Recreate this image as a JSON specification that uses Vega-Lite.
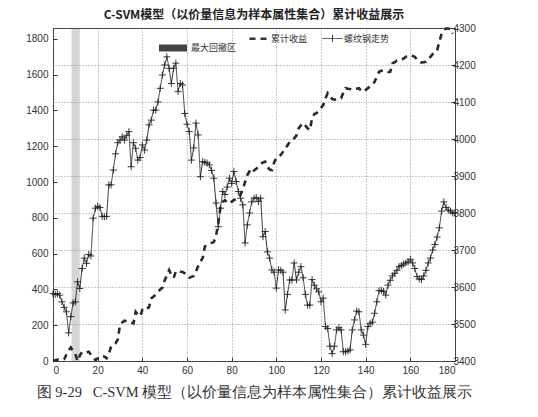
{
  "$schema": "https://vega.github.io/schema/vega-lite/v6.json",
  "width": 402,
  "height": 333,
  "autosize": {"type": "none"},
  "padding": {"left": 53, "top": 28, "right": 83, "bottom": 56},
  "background": "white",
  "config": {
    "view": {"stroke": "#333", "strokeWidth": 1},
    "axis": {"labelFont": "Liberation Sans", "labelFontSize": 10, "labelColor": "#333", "tickColor": "#333", "domain": false, "gridColor": "#777", "gridDash": [1, 2], "gridWidth": 0.8, "labelOverlap": false, "format": "d"}
  },
  "title": {"text": "C-SVM模型（以价量信息为样本属性集合）累计收益展示", "font": "Noto Sans CJK SC", "fontSize": 12, "fontWeight": "bold", "color": "#222", "offset": 1},
  "datasets": {
    "band": [{"x0": 8.3, "x1": 12, "s": "最大回撤区"}],
    "cum": [
      {"x":0,"v":0,"s":"累计收益"},{"x":2,"v":8,"s":"累计收益"},{"x":3,"v":5,"s":"累计收益"},{"x":5,"v":10,"s":"累计收益"},{"x":6,"v":35,"s":"累计收益"},{"x":7,"v":60,"s":"累计收益"},{"x":8,"v":75,"s":"累计收益"},{"x":9,"v":55,"s":"累计收益"},{"x":10,"v":40,"s":"累计收益"},{"x":11,"v":0,"s":"累计收益"},{"x":12,"v":30,"s":"累计收益"},{"x":13,"v":50,"s":"累计收益"},{"x":14,"v":52,"s":"累计收益"},{"x":15,"v":48,"s":"累计收益"},{"x":16,"v":52,"s":"累计收益"},{"x":17,"v":35,"s":"累计收益"},{"x":18,"v":20,"s":"累计收益"},{"x":19,"v":5,"s":"累计收益"},{"x":20,"v":15,"s":"累计收益"},{"x":21,"v":20,"s":"累计收益"},{"x":22,"v":30,"s":"累计收益"},{"x":23,"v":25,"s":"累计收益"},{"x":24,"v":15,"s":"累计收益"},{"x":25,"v":40,"s":"累计收益"},{"x":26,"v":80,"s":"累计收益"},{"x":27,"v":95,"s":"累计收益"},{"x":28,"v":100,"s":"累计收益"},{"x":29,"v":120,"s":"累计收益"},{"x":30,"v":200,"s":"累计收益"},{"x":31,"v":215,"s":"累计收益"},{"x":32,"v":225,"s":"累计收益"},{"x":33,"v":222,"s":"累计收益"},{"x":34,"v":220,"s":"累计收益"},{"x":35,"v":215,"s":"累计收益"},{"x":36,"v":210,"s":"累计收益"},{"x":37,"v":275,"s":"累计收益"},{"x":38,"v":260,"s":"累计收益"},{"x":39,"v":250,"s":"累计收益"},{"x":40,"v":285,"s":"累计收益"},{"x":41,"v":280,"s":"累计收益"},{"x":42,"v":295,"s":"累计收益"},{"x":43,"v":300,"s":"累计收益"},{"x":44,"v":350,"s":"累计收益"},{"x":45,"v":360,"s":"累计收益"},{"x":46,"v":370,"s":"累计收益"},{"x":47,"v":385,"s":"累计收益"},{"x":48,"v":400,"s":"累计收益"},{"x":49,"v":410,"s":"累计收益"},{"x":50,"v":450,"s":"累计收益"},{"x":51,"v":480,"s":"累计收益"},{"x":52,"v":508,"s":"累计收益"},{"x":53,"v":480,"s":"累计收益"},{"x":54,"v":465,"s":"累计收益"},{"x":55,"v":500,"s":"累计收益"},{"x":56,"v":505,"s":"累计收益"},{"x":57,"v":500,"s":"累计收益"},{"x":58,"v":498,"s":"累计收益"},{"x":59,"v":490,"s":"累计收益"},{"x":60,"v":480,"s":"累计收益"},{"x":61,"v":465,"s":"累计收益"},{"x":62,"v":470,"s":"累计收益"},{"x":63,"v":475,"s":"累计收益"},{"x":64,"v":500,"s":"累计收益"},{"x":65,"v":530,"s":"累计收益"},{"x":66,"v":555,"s":"累计收益"},{"x":67,"v":575,"s":"累计收益"},{"x":68,"v":640,"s":"累计收益"},{"x":69,"v":648,"s":"累计收益"},{"x":70,"v":655,"s":"累计收益"},{"x":71,"v":660,"s":"累计收益"},{"x":72,"v":665,"s":"累计收益"},{"x":73,"v":700,"s":"累计收益"},{"x":74,"v":770,"s":"累计收益"},{"x":75,"v":860,"s":"累计收益"},{"x":76,"v":890,"s":"累计收益"},{"x":77,"v":899,"s":"累计收益"},{"x":78,"v":885,"s":"累计收益"},{"x":79,"v":880,"s":"累计收益"},{"x":80,"v":890,"s":"累计收益"},{"x":81,"v":900,"s":"累计收益"},{"x":82,"v":905,"s":"累计收益"},{"x":83,"v":910,"s":"累计收益"},{"x":84,"v":930,"s":"累计收益"},{"x":85,"v":960,"s":"累计收益"},{"x":86,"v":1000,"s":"累计收益"},{"x":87,"v":1039,"s":"累计收益"},{"x":88,"v":1060,"s":"累计收益"},{"x":89,"v":1078,"s":"累计收益"},{"x":90,"v":1065,"s":"累计收益"},{"x":91,"v":1075,"s":"累计收益"},{"x":92,"v":1085,"s":"累计收益"},{"x":93,"v":1100,"s":"累计收益"},{"x":94,"v":1110,"s":"累计收益"},{"x":95,"v":1114,"s":"累计收益"},{"x":96,"v":1085,"s":"累计收益"},{"x":97,"v":1070,"s":"累计收益"},{"x":98,"v":1067,"s":"累计收益"},{"x":99,"v":1110,"s":"累计收益"},{"x":100,"v":1135,"s":"累计收益"},{"x":101,"v":1145,"s":"累计收益"},{"x":102,"v":1151,"s":"累计收益"},{"x":103,"v":1170,"s":"累计收益"},{"x":104,"v":1190,"s":"累计收益"},{"x":105,"v":1205,"s":"累计收益"},{"x":106,"v":1225,"s":"累计收益"},{"x":107,"v":1235,"s":"累计收益"},{"x":108,"v":1245,"s":"累计收益"},{"x":109,"v":1260,"s":"累计收益"},{"x":110,"v":1300,"s":"累计收益"},{"x":111,"v":1317,"s":"累计收益"},{"x":112,"v":1330,"s":"累计收益"},{"x":113,"v":1315,"s":"累计收益"},{"x":114,"v":1300,"s":"累计收益"},{"x":115,"v":1290,"s":"累计收益"},{"x":116,"v":1355,"s":"累计收益"},{"x":117,"v":1380,"s":"累计收益"},{"x":118,"v":1385,"s":"累计收益"},{"x":119,"v":1400,"s":"累计收益"},{"x":120,"v":1415,"s":"累计收益"},{"x":121,"v":1430,"s":"累计收益"},{"x":122,"v":1468,"s":"累计收益"},{"x":123,"v":1497,"s":"累计收益"},{"x":124,"v":1480,"s":"累计收益"},{"x":125,"v":1465,"s":"累计收益"},{"x":126,"v":1460,"s":"累计收益"},{"x":127,"v":1462,"s":"累计收益"},{"x":128,"v":1465,"s":"累计收益"},{"x":129,"v":1468,"s":"累计收益"},{"x":130,"v":1500,"s":"累计收益"},{"x":131,"v":1525,"s":"累计收益"},{"x":132,"v":1522,"s":"累计收益"},{"x":133,"v":1520,"s":"累计收益"},{"x":134,"v":1515,"s":"累计收益"},{"x":135,"v":1520,"s":"累计收益"},{"x":136,"v":1522,"s":"累计收益"},{"x":137,"v":1525,"s":"累计收益"},{"x":138,"v":1510,"s":"累计收益"},{"x":139,"v":1505,"s":"累计收益"},{"x":140,"v":1515,"s":"累计收益"},{"x":141,"v":1525,"s":"累计收益"},{"x":142,"v":1535,"s":"累计收益"},{"x":143,"v":1545,"s":"累计收益"},{"x":144,"v":1560,"s":"累计收益"},{"x":145,"v":1590,"s":"累计收益"},{"x":146,"v":1616,"s":"累计收益"},{"x":147,"v":1622,"s":"累计收益"},{"x":148,"v":1625,"s":"累计收益"},{"x":149,"v":1620,"s":"累计收益"},{"x":150,"v":1615,"s":"累计收益"},{"x":151,"v":1616,"s":"累计收益"},{"x":152,"v":1663,"s":"累计收益"},{"x":153,"v":1670,"s":"累计收益"},{"x":154,"v":1680,"s":"累计收益"},{"x":155,"v":1682,"s":"累计收益"},{"x":156,"v":1686,"s":"累计收益"},{"x":157,"v":1690,"s":"累计收益"},{"x":158,"v":1700,"s":"累计收益"},{"x":159,"v":1705,"s":"累计收益"},{"x":160,"v":1709,"s":"累计收益"},{"x":161,"v":1705,"s":"累计收益"},{"x":162,"v":1700,"s":"累计收益"},{"x":163,"v":1685,"s":"累计收益"},{"x":164,"v":1672,"s":"累计收益"},{"x":165,"v":1668,"s":"累计收益"},{"x":166,"v":1670,"s":"累计收益"},{"x":167,"v":1672,"s":"累计收益"},{"x":168,"v":1685,"s":"累计收益"},{"x":169,"v":1700,"s":"累计收益"},{"x":170,"v":1715,"s":"累计收益"},{"x":171,"v":1730,"s":"累计收益"},{"x":172,"v":1737,"s":"累计收益"},{"x":173,"v":1784,"s":"累计收益"},{"x":174,"v":1830,"s":"累计收益"},{"x":175,"v":1850,"s":"累计收益"},{"x":176,"v":1858,"s":"累计收益"},{"x":177,"v":1858,"s":"累计收益"},{"x":178,"v":1855,"s":"累计收益"},{"x":179,"v":1830,"s":"累计收益"}
    ],
    "price": [
      {"x":0,"v":3582,"s":"螺纹钢走势"},{"x":1,"v":3580,"s":"螺纹钢走势"},{"x":2,"v":3582,"s":"螺纹钢走势"},{"x":3,"v":3578,"s":"螺纹钢走势"},{"x":4,"v":3560,"s":"螺纹钢走势"},{"x":5,"v":3545,"s":"螺纹钢走势"},{"x":6,"v":3533,"s":"螺纹钢走势"},{"x":7,"v":3476,"s":"螺纹钢走势"},{"x":8,"v":3520,"s":"螺纹钢走势"},{"x":9,"v":3557,"s":"螺纹钢走势"},{"x":10,"v":3560,"s":"螺纹钢走势"},{"x":11,"v":3614,"s":"螺纹钢走势"},{"x":12,"v":3596,"s":"螺纹钢走势"},{"x":13,"v":3650,"s":"螺纹钢走势"},{"x":14,"v":3678,"s":"螺纹钢走势"},{"x":15,"v":3664,"s":"螺纹钢走势"},{"x":16,"v":3688,"s":"螺纹钢走势"},{"x":17,"v":3684,"s":"螺纹钢走势"},{"x":18,"v":3786,"s":"螺纹钢走势"},{"x":19,"v":3813,"s":"螺纹钢走势"},{"x":20,"v":3818,"s":"螺纹钢走势"},{"x":21,"v":3815,"s":"螺纹钢走势"},{"x":22,"v":3791,"s":"螺纹钢走势"},{"x":23,"v":3790,"s":"螺纹钢走势"},{"x":24,"v":3791,"s":"螺纹钢走势"},{"x":25,"v":3876,"s":"螺纹钢走势"},{"x":26,"v":3876,"s":"螺纹钢走势"},{"x":27,"v":3916,"s":"螺纹钢走势"},{"x":28,"v":3960,"s":"螺纹钢走势"},{"x":29,"v":3990,"s":"螺纹钢走势"},{"x":30,"v":3997,"s":"螺纹钢走势"},{"x":31,"v":4006,"s":"螺纹钢走势"},{"x":32,"v":3997,"s":"螺纹钢走势"},{"x":33,"v":4010,"s":"螺纹钢走势"},{"x":34,"v":4020,"s":"螺纹钢走势"},{"x":35,"v":3925,"s":"螺纹钢走势"},{"x":36,"v":3990,"s":"螺纹钢走势"},{"x":37,"v":3975,"s":"螺纹钢走势"},{"x":38,"v":3943,"s":"螺纹钢走势"},{"x":39,"v":3950,"s":"螺纹钢走势"},{"x":40,"v":3984,"s":"螺纹钢走势"},{"x":41,"v":3970,"s":"螺纹钢走势"},{"x":42,"v":3997,"s":"螺纹钢走势"},{"x":43,"v":4038,"s":"螺纹钢走势"},{"x":44,"v":4051,"s":"螺纹钢走势"},{"x":45,"v":4078,"s":"螺纹钢走势"},{"x":46,"v":4078,"s":"螺纹钢走势"},{"x":47,"v":4100,"s":"螺纹钢走势"},{"x":48,"v":4137,"s":"螺纹钢走势"},{"x":49,"v":4173,"s":"螺纹钢走势"},{"x":50,"v":4200,"s":"螺纹钢走势"},{"x":51,"v":4222,"s":"螺纹钢走势"},{"x":52,"v":4191,"s":"螺纹钢走势"},{"x":53,"v":4150,"s":"螺纹钢走势"},{"x":54,"v":4191,"s":"螺纹钢走势"},{"x":55,"v":4205,"s":"螺纹钢走势"},{"x":56,"v":4128,"s":"螺纹钢走势"},{"x":57,"v":4150,"s":"螺纹钢走势"},{"x":58,"v":4146,"s":"螺纹钢走势"},{"x":59,"v":4069,"s":"螺纹钢走势"},{"x":60,"v":4040,"s":"螺纹钢走势"},{"x":61,"v":4020,"s":"螺纹钢走势"},{"x":62,"v":3943,"s":"螺纹钢走势"},{"x":63,"v":3976,"s":"螺纹钢走势"},{"x":64,"v":4043,"s":"螺纹钢走势"},{"x":65,"v":4011,"s":"螺纹钢走势"},{"x":66,"v":3898,"s":"螺纹钢走势"},{"x":67,"v":3939,"s":"螺纹钢走势"},{"x":68,"v":3937,"s":"螺纹钢走势"},{"x":69,"v":3935,"s":"螺纹钢走势"},{"x":70,"v":3930,"s":"螺纹钢走势"},{"x":71,"v":3915,"s":"螺纹钢走势"},{"x":72,"v":3894,"s":"螺纹钢走势"},{"x":73,"v":3827,"s":"螺纹钢走势"},{"x":74,"v":3763,"s":"螺纹钢走势"},{"x":75,"v":3813,"s":"螺纹钢走势"},{"x":76,"v":3858,"s":"螺纹钢走势"},{"x":77,"v":3850,"s":"螺纹钢走势"},{"x":78,"v":3870,"s":"螺纹钢走势"},{"x":79,"v":3894,"s":"螺纹钢走势"},{"x":80,"v":3880,"s":"螺纹钢走势"},{"x":81,"v":3912,"s":"螺纹钢走势"},{"x":82,"v":3885,"s":"螺纹钢走势"},{"x":83,"v":3858,"s":"螺纹钢走势"},{"x":84,"v":3840,"s":"螺纹钢走势"},{"x":85,"v":3822,"s":"螺纹钢走势"},{"x":86,"v":3719,"s":"螺纹钢走势"},{"x":87,"v":3768,"s":"螺纹钢走势"},{"x":88,"v":3800,"s":"螺纹钢走势"},{"x":89,"v":3830,"s":"螺纹钢走势"},{"x":90,"v":3840,"s":"螺纹钢走势"},{"x":91,"v":3842,"s":"螺纹钢走势"},{"x":92,"v":3831,"s":"螺纹钢走势"},{"x":93,"v":3840,"s":"螺纹钢走势"},{"x":94,"v":3736,"s":"螺纹钢走势"},{"x":95,"v":3750,"s":"螺纹钢走势"},{"x":96,"v":3695,"s":"螺纹钢走势"},{"x":97,"v":3678,"s":"螺纹钢走势"},{"x":98,"v":3646,"s":"螺纹钢走势"},{"x":99,"v":3640,"s":"螺纹钢走势"},{"x":100,"v":3597,"s":"螺纹钢走势"},{"x":101,"v":3646,"s":"螺纹钢走势"},{"x":102,"v":3645,"s":"螺纹钢走势"},{"x":103,"v":3640,"s":"螺纹钢走势"},{"x":104,"v":3538,"s":"螺纹钢走势"},{"x":105,"v":3580,"s":"螺纹钢走势"},{"x":106,"v":3619,"s":"螺纹钢走势"},{"x":107,"v":3619,"s":"螺纹钢走势"},{"x":108,"v":3665,"s":"螺纹钢走势"},{"x":109,"v":3619,"s":"螺纹钢走势"},{"x":110,"v":3640,"s":"螺纹钢走势"},{"x":111,"v":3655,"s":"螺纹钢走势"},{"x":112,"v":3625,"s":"螺纹钢走势"},{"x":113,"v":3580,"s":"螺纹钢走势"},{"x":114,"v":3551,"s":"螺纹钢走势"},{"x":115,"v":3551,"s":"螺纹钢走势"},{"x":116,"v":3620,"s":"螺纹钢走势"},{"x":117,"v":3605,"s":"螺纹钢走势"},{"x":118,"v":3595,"s":"螺纹钢走势"},{"x":119,"v":3587,"s":"螺纹钢走势"},{"x":120,"v":3560,"s":"螺纹钢走势"},{"x":121,"v":3570,"s":"螺纹钢走势"},{"x":122,"v":3493,"s":"螺纹钢走势"},{"x":123,"v":3488,"s":"螺纹钢走势"},{"x":124,"v":3440,"s":"螺纹钢走势"},{"x":125,"v":3420,"s":"螺纹钢走势"},{"x":126,"v":3440,"s":"螺纹钢走势"},{"x":127,"v":3484,"s":"螺纹钢走势"},{"x":128,"v":3490,"s":"螺纹钢走势"},{"x":129,"v":3484,"s":"螺纹钢走势"},{"x":130,"v":3425,"s":"螺纹钢走势"},{"x":131,"v":3425,"s":"螺纹钢走势"},{"x":132,"v":3427,"s":"螺纹钢走势"},{"x":133,"v":3430,"s":"螺纹钢走势"},{"x":134,"v":3484,"s":"螺纹钢走势"},{"x":135,"v":3511,"s":"螺纹钢走势"},{"x":136,"v":3535,"s":"螺纹钢走势"},{"x":137,"v":3533,"s":"螺纹钢走势"},{"x":138,"v":3484,"s":"螺纹钢走势"},{"x":139,"v":3470,"s":"螺纹钢走势"},{"x":140,"v":3445,"s":"螺纹钢走势"},{"x":141,"v":3493,"s":"螺纹钢走势"},{"x":142,"v":3502,"s":"螺纹钢走势"},{"x":143,"v":3505,"s":"螺纹钢走势"},{"x":144,"v":3529,"s":"螺纹钢走势"},{"x":145,"v":3560,"s":"螺纹钢走势"},{"x":146,"v":3590,"s":"螺纹钢走势"},{"x":147,"v":3591,"s":"螺纹钢走势"},{"x":148,"v":3588,"s":"螺纹钢走势"},{"x":149,"v":3578,"s":"螺纹钢走势"},{"x":150,"v":3605,"s":"螺纹钢走势"},{"x":151,"v":3618,"s":"螺纹钢走势"},{"x":152,"v":3630,"s":"螺纹钢走势"},{"x":153,"v":3637,"s":"螺纹钢走势"},{"x":154,"v":3645,"s":"螺纹钢走势"},{"x":155,"v":3655,"s":"螺纹钢走势"},{"x":156,"v":3658,"s":"螺纹钢走势"},{"x":157,"v":3662,"s":"螺纹钢走势"},{"x":158,"v":3665,"s":"螺纹钢走势"},{"x":159,"v":3668,"s":"螺纹钢走势"},{"x":160,"v":3675,"s":"螺纹钢走势"},{"x":161,"v":3665,"s":"螺纹钢走势"},{"x":162,"v":3650,"s":"螺纹钢走势"},{"x":163,"v":3628,"s":"螺纹钢走势"},{"x":164,"v":3622,"s":"螺纹钢走势"},{"x":165,"v":3620,"s":"螺纹钢走势"},{"x":166,"v":3630,"s":"螺纹钢走势"},{"x":167,"v":3645,"s":"螺纹钢走势"},{"x":168,"v":3665,"s":"螺纹钢走势"},{"x":169,"v":3678,"s":"螺纹钢走势"},{"x":170,"v":3700,"s":"螺纹钢走势"},{"x":171,"v":3715,"s":"螺纹钢走势"},{"x":172,"v":3735,"s":"螺纹钢走势"},{"x":173,"v":3760,"s":"螺纹钢走势"},{"x":174,"v":3805,"s":"螺纹钢走势"},{"x":175,"v":3830,"s":"螺纹钢走势"},{"x":176,"v":3815,"s":"螺纹钢走势"},{"x":177,"v":3808,"s":"螺纹钢走势"},{"x":178,"v":3805,"s":"螺纹钢走势"},{"x":179,"v":3800,"s":"螺纹钢走势"},{"x":180,"v":3800,"s":"螺纹钢走势"}
    ]
  },
  "layer": [
    {
      "data": {"name": "band"},
      "mark": {"type": "rect", "opacity": 0.22},
      "encoding": {
        "x": {"field": "x0", "type": "quantitative", "scale": {"domain": [0, 180], "nice": false},
          "axis": {"values": [0,20,40,60,80,100,120,140,160,180], "grid": true, "tickSize": -4, "labelPadding": 8, "title": "图 9-29\u00a0\u00a0\u00a0C-SVM 模型（以价量信息为样本属性集合）累计收益展示", "titleFont": "Liberation Serif", "titleFontSize": 14.5, "titleFontWeight": "normal", "titleColor": "#333", "titlePadding": 10}},
        "x2": {"field": "x1"},
        "fill": {"field": "s", "type": "nominal", "scale": {"range": ["#444"]},
          "legend": {"title": null, "orient": "none", "legendX": 106, "legendY": 6, "symbolType": "M-1,-0.25H1V0.25H-1Z", "symbolSize": 784, "symbolOpacity": 1, "symbolStrokeWidth": 0, "labelFont": "Noto Sans CJK SC", "labelFontSize": 9, "labelColor": "#333", "labelOffset": 4}}
      }
    },
    {
      "data": {"name": "cum"},
      "mark": {"type": "line", "color": "#2a2a2a", "strokeWidth": 2.6},
      "encoding": {
        "x": {"field": "x", "type": "quantitative"},
        "y": {"field": "v", "type": "quantitative", "scale": {"domain": [0, 1861], "nice": false},
          "axis": {"orient": "left", "values": [0,200,400,600,800,1000,1200,1400,1600,1800], "grid": false, "tickSize": -4, "labelPadding": 9, "title": null}},
        "strokeDash": {"field": "s", "type": "nominal", "scale": {"domain": ["累计收益", "螺纹钢走势"], "range": [[6, 5], [1, 0]]},
          "legend": {"title": null, "orient": "none", "direction": "horizontal", "legendX": 202, "legendY": 6, "symbolSize": 400, "symbolStrokeColor": "#333", "labelFont": "Noto Sans CJK SC", "labelFontSize": 9, "labelColor": "#333", "labelOffset": 7, "columnPadding": 12,
            "encode": {"symbols": {"update": {"shape": {"signal": "datum.value === '累计收益' ? 'stroke' : 'M-1,0H1M0,-0.35V0.35'"}, "strokeWidth": {"signal": "datum.value === '累计收益' ? 2.5 : 1"}, "stroke": {"value": "#333"}}}}}}
      }
    },
    {
      "data": {"name": "price"},
      "encoding": {
        "x": {"field": "x", "type": "quantitative"},
        "y": {"field": "v", "type": "quantitative", "scale": {"domain": [3400, 4300], "nice": false},
          "axis": {"orient": "right", "values": [3400,3500,3600,3700,3800,3900,4000,4100,4200,4300], "grid": true, "tickSize": -4, "labelPadding": 2, "title": null}}
      },
      "layer": [
        {
          "mark": {"type": "line", "color": "#333", "strokeWidth": 1},
          "encoding": {
            "strokeDash": {"field": "s", "type": "nominal"}
          }
        },
        {
          "mark": {"type": "point", "shape": "M-1,0H1M0,-1V1", "size": 49, "filled": false, "stroke": "#222", "strokeWidth": 0.9, "opacity": 1}
        }
      ]
    }
  ],
  "resolve": {"scale": {"y": "independent"}}
}
